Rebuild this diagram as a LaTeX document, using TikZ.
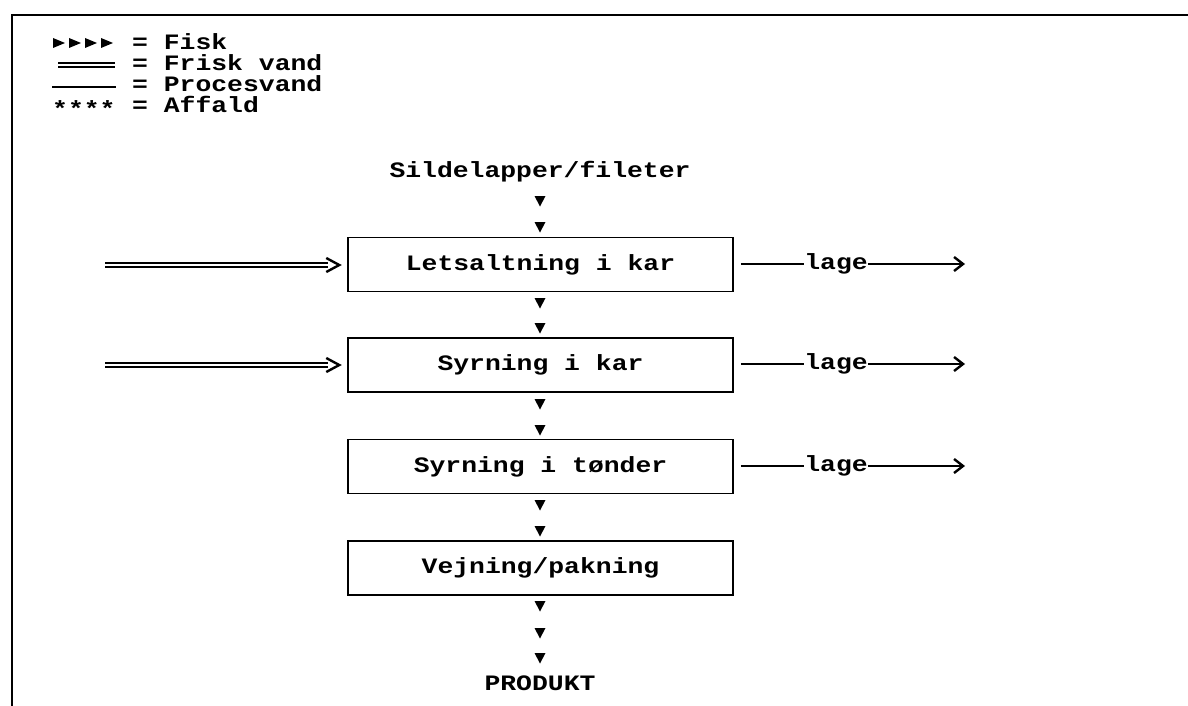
\documentclass[tikz,border=0pt]{standalone}
\usepackage{fontspec}
\setmainfont{Liberation Mono}[FakeStretch=1.2]
\usetikzlibrary{arrows.meta}
\begin{document}
\begin{tikzpicture}[x=1pt,y=-1pt,
  every node/.style={font=\fontsize{22}{21}\selectfont\bfseries, inner sep=0pt},
  box/.style={draw, line width=1.5pt, minimum width=385pt, minimum height=54pt},
  pline/.style={line width=1.4pt},
  dline/.style={double, double distance=2.2pt, line width=1.6pt},
  chev/.style={line width=2.4pt, line join=miter},
  barb/.style={pline, -{Straight Barb[length=9pt, width=14pt, line width=2.4pt]}},
  frame/.style={line width=2pt}]
\useasboundingbox (0,0) rectangle (1188,706);
\newcommand\dtri[2]{\fill (#1,#2) +(-5.5,-5) -- +(5.5,-5) -- +(0,5.5) -- cycle;}
\newcommand\rtri[2]{\fill (#1,#2) +(-6,-5) -- +(-6,5) -- +(6,0) -- cycle;}
% frame
\draw[frame] (1188,15) -- (12,15) -- (12,706);
% legend
\node[anchor=base west, align=left] (lg) at (132,113) {= Fisk\\= Frisk vand\\= Procesvand\\= Affald};
\rtri{59}{43}\rtri{75}{43}\rtri{91}{43}\rtri{107}{43}
\coordinate (d1) at (58,65);
\coordinate (d2) at (115,65);
\draw[dline] (d1) -- (d2);
\coordinate (p1) at (52,87);
\coordinate (p2) at (116,87);
\draw[pline] (p1) -- (p2);
\node[anchor=base west] (stars) at (52,117) {****};
% main flow
\node (src) at (540,172) {Sildelapper/fileter};
\node[box] (b1) at (540.5,264.5) {Letsaltning i kar};
\node[box] (b2) at (540.5,365) {Syrning i kar};
\node[box] (b3) at (540.5,466.5) {Syrning i tønder};
\node[box] (b4) at (540.5,568) {Vejning/pakning};
\node (prod) at (540,683) {PRODUKT};
\dtri{540}{201}\dtri{540}{227}
\dtri{540}{303}\dtri{540}{328}
\dtri{540}{404}\dtri{540}{430}
\dtri{540}{505}\dtri{540}{531}
\dtri{540}{606}\dtri{540}{633}\dtri{540}{658}
% left inputs (fresh water)
\foreach \b/\y in {b1/265,b2/365}{
  \coordinate (in\b) at (105,\y);
  \draw[dline] (in\b) -- ([xshift=-19pt]\b.west |- in\b);
  \draw[chev] ([xshift=-21pt,yshift=7pt]\b.west |- in\b) -- ([xshift=-8pt]\b.west |- in\b) -- ([xshift=-21pt,yshift=-7pt]\b.west |- in\b);
}
% right outputs (lage)
\foreach \b/\y in {b1/264,b2/364,b3/466}{
  \node (lage\b) at (836,\y) {lage};
  \coordinate (out\b) at (965,\y);
  \draw[pline] ([xshift=7pt]\b.east |- lage\b) -- (lage\b.west);
  \draw[barb] (lage\b.east) -- (out\b);
}
\end{tikzpicture}
\end{document}
